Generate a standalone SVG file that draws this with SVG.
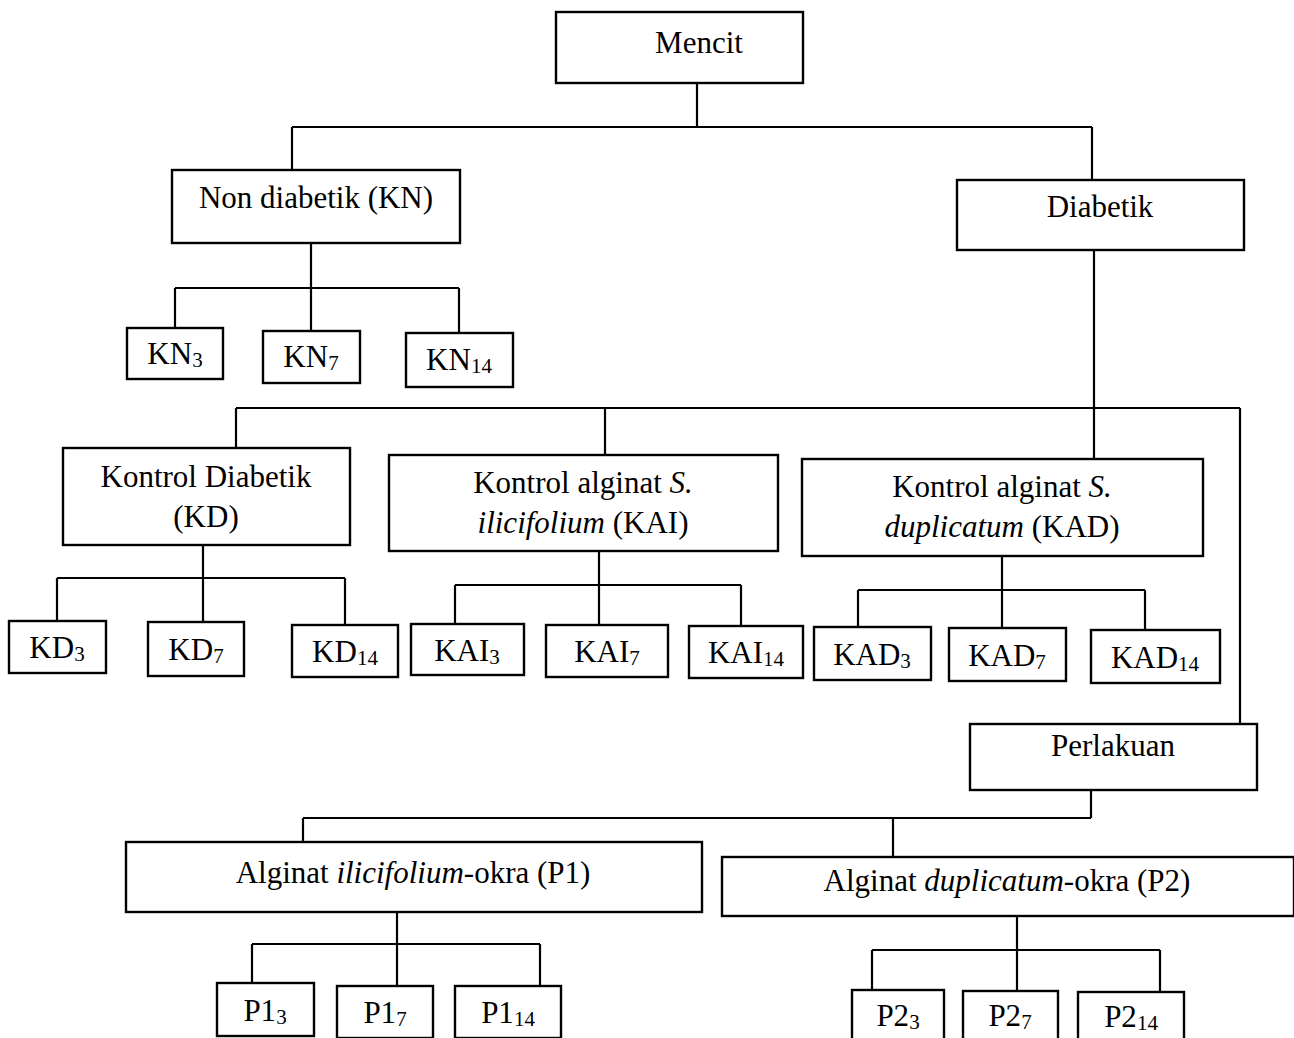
<svg xmlns="http://www.w3.org/2000/svg" width="1294" height="1038" viewBox="0 0 1294 1038">
<style>
.b{fill:#fff;stroke:#000;stroke-width:2.4}
.t{font-family:"Liberation Serif","Times New Roman",serif;font-size:31px;fill:#000;text-anchor:middle}
.s{font-size:21px}
.c{fill:none;stroke:#000;stroke-width:2.2}
</style>
<rect width="1294" height="1038" fill="#fff"/>
<g id="connectors">
<path class="c" d="M697,83V127M292,127H1092M292,127V170M1092,127V180"/>
<path class="c" d="M311,243V288M175,288H459M175,288V328M311,288V331M459,288V333"/>
<path class="c" d="M1094,250V459M236,408H1240M236,408V448M605,408V455M1240,408V724"/>
<path class="c" d="M203,545V578M57,578H345M57,578V621M203,578V622M345,578V625"/>
<path class="c" d="M599,551V585M455,585H741M455,585V624M599,585V625M741,585V626"/>
<path class="c" d="M1002,556V590M858,590H1145M858,590V627M1002,590V628M1145,590V630"/>
<path class="c" d="M1091,790V818M303,818H1091M303,818V842M893,818V857"/>
<path class="c" d="M397,912V944M252,944H540M252,944V983M397,944V986M540,944V986"/>
<path class="c" d="M1017,916V950M872,950H1160M872,950V990M1017,950V991M1160,950V992"/>
</g>
<g id="mencit"><rect class="b" x="556" y="12" width="247" height="71"/><text class="t" x="699" y="53">Mencit</text></g>
<g id="non-diabetik"><rect class="b" x="172" y="170" width="288" height="73"/><text class="t" x="316" y="208">Non diabetik (KN)</text></g>
<g id="diabetik"><rect class="b" x="957" y="180" width="287" height="70"/><text class="t" x="1100" y="217">Diabetik</text></g>
<g id="kn3"><rect class="b" x="127" y="328" width="96" height="51"/><text class="t" x="175" y="364">KN<tspan class="s" dy="3">3</tspan></text></g>
<g id="kn7"><rect class="b" x="263" y="331" width="97" height="52"/><text class="t" x="311" y="367">KN<tspan class="s" dy="3">7</tspan></text></g>
<g id="kn14"><rect class="b" x="406" y="333" width="107" height="54"/><text class="t" x="459" y="370">KN<tspan class="s" dy="3">14</tspan></text></g>
<g id="kd"><rect class="b" x="63" y="448" width="287" height="97"/><text class="t" x="206" y="487">Kontrol Diabetik</text><text class="t" x="206" y="527">(KD)</text></g>
<g id="kai"><rect class="b" x="389" y="455" width="389" height="96"/><text class="t" x="583" y="493">Kontrol alginat <tspan font-style="italic">S.</tspan></text><text class="t" x="583" y="533"><tspan font-style="italic">ilicifolium</tspan> (KAI)</text></g>
<g id="kad"><rect class="b" x="802" y="459" width="401" height="97"/><text class="t" x="1002" y="497">Kontrol alginat <tspan font-style="italic">S.</tspan></text><text class="t" x="1002" y="537"><tspan font-style="italic">duplicatum</tspan> (KAD)</text></g>
<g id="kd3"><rect class="b" x="9" y="621" width="97" height="52"/><text class="t" x="57" y="658">KD<tspan class="s" dy="3">3</tspan></text></g>
<g id="kd7"><rect class="b" x="148" y="622" width="96" height="54"/><text class="t" x="196" y="660">KD<tspan class="s" dy="3">7</tspan></text></g>
<g id="kd14"><rect class="b" x="292" y="625" width="106" height="52"/><text class="t" x="345" y="662">KD<tspan class="s" dy="3">14</tspan></text></g>
<g id="kai3"><rect class="b" x="411" y="624" width="113" height="51"/><text class="t" x="467" y="661">KAI<tspan class="s" dy="3">3</tspan></text></g>
<g id="kai7"><rect class="b" x="546" y="625" width="122" height="52"/><text class="t" x="607" y="662">KAI<tspan class="s" dy="3">7</tspan></text></g>
<g id="kai14"><rect class="b" x="689" y="626" width="114" height="52"/><text class="t" x="746" y="663">KAI<tspan class="s" dy="3">14</tspan></text></g>
<g id="kad3"><rect class="b" x="814" y="627" width="117" height="53"/><text class="t" x="872" y="665">KAD<tspan class="s" dy="3">3</tspan></text></g>
<g id="kad7"><rect class="b" x="949" y="628" width="117" height="53"/><text class="t" x="1007" y="666">KAD<tspan class="s" dy="3">7</tspan></text></g>
<g id="kad14"><rect class="b" x="1091" y="630" width="129" height="53"/><text class="t" x="1155" y="668">KAD<tspan class="s" dy="3">14</tspan></text></g>
<g id="perlakuan"><rect class="b" x="970" y="724" width="287" height="66"/><text class="t" x="1113" y="756">Perlakuan</text></g>
<g id="p1"><rect class="b" x="126" y="842" width="576" height="70"/><text class="t" x="413" y="883">Alginat <tspan font-style="italic">ilicifolium</tspan>-okra (P1)</text></g>
<g id="p2"><rect class="b" x="722" y="857" width="572" height="59"/><text class="t" x="1007" y="891">Alginat <tspan font-style="italic">duplicatum</tspan>-okra (P2)</text></g>
<g id="p1-3"><rect class="b" x="217" y="983" width="97" height="53"/><text class="t" x="265" y="1021">P1<tspan class="s" dy="3">3</tspan></text></g>
<g id="p1-7"><rect class="b" x="337" y="986" width="96" height="52"/><text class="t" x="385" y="1023">P1<tspan class="s" dy="3">7</tspan></text></g>
<g id="p1-14"><rect class="b" x="455" y="986" width="106" height="52"/><text class="t" x="508" y="1023">P1<tspan class="s" dy="3">14</tspan></text></g>
<g id="p2-3"><rect class="b" x="852" y="990" width="92" height="60"/><text class="t" x="898" y="1026">P2<tspan class="s" dy="3">3</tspan></text></g>
<g id="p2-7"><rect class="b" x="963" y="991" width="95" height="60"/><text class="t" x="1010" y="1026">P2<tspan class="s" dy="3">7</tspan></text></g>
<g id="p2-14"><rect class="b" x="1078" y="992" width="106" height="60"/><text class="t" x="1131" y="1027">P2<tspan class="s" dy="3">14</tspan></text></g>
</svg>
